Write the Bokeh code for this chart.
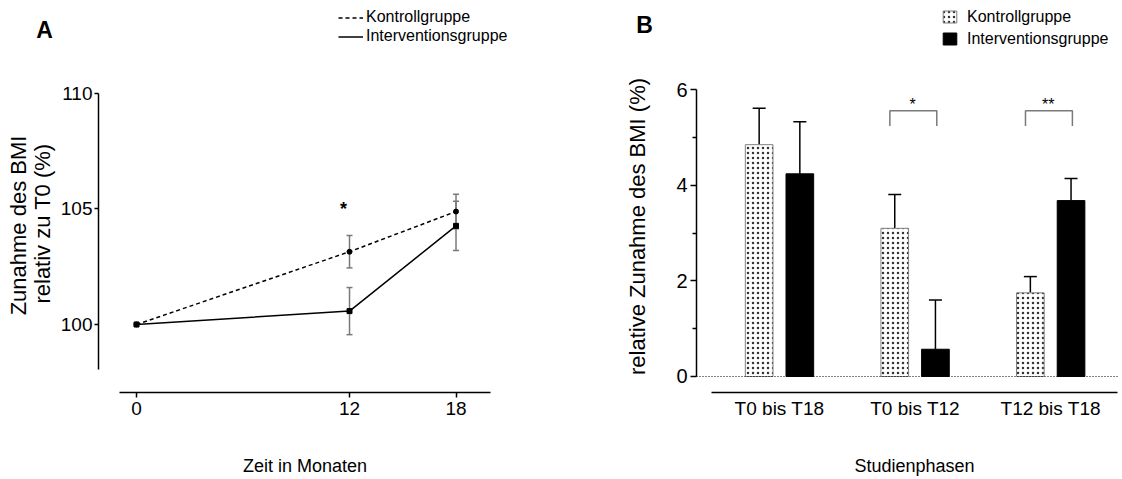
import numpy as np
from bokeh.plotting import figure
from bokeh.layouts import row
from bokeh.models import (ColumnDataSource, Whisker, TeeHead, FixedTicker, Legend,
                          LegendItem, Label, Range1d, LinearAxis, Grid)
from bokeh.embed import file_html
from bokeh.resources import INLINE

FONT = "Liberation Sans"

# ---------------- Panel A data ----------------
months = [0, 12, 18]
ctrl_mean = [100.0, 103.15, 104.89]
ctrl_err = [0.0, 0.70, 0.75]
int_mean = [100.0, 100.58, 104.27]
int_err = [0.0, 1.02, 1.07]
series_names = ["Kontrollgruppe", "Interventionsgruppe"]
a_yticks = [100, 105, 110]
a_sig_month = 12
a_sig_text = "*"

# ---------------- Panel B data ----------------
phases = ["T0 bis T18", "T0 bis T12", "T12 bis T18"]
ctrl_b = [4.85, 3.10, 1.75]
ctrl_b_err = [0.76, 0.71, 0.34]
int_b = [4.24, 0.57, 3.68]
int_b_err = [1.09, 1.03, 0.46]
b_yticks = [0, 2, 4, 6]
b_minor = [1, 3, 5]
sig_phase = [1, 2]
sig_text = ["*", "**"]

# ---------------- layout constants (axis placement) ----------------
A_YAXIS_AT, A_XAXIS_AT = -2.141, 97.056
B_YAXIS_AT, B_XAXIS_AT = -0.612, -0.335
B_XAXIS_END = 2.493


def make_fig(width, xr, yr):
    p = figure(width=width, height=479, output_backend="svg", toolbar_location=None,
               x_range=Range1d(*xr), y_range=Range1d(*yr),
               x_axis_location=None, y_axis_location=None,
               min_border_left=0, min_border_right=0, min_border_top=0, min_border_bottom=0)
    for r in list(p.center):
        if isinstance(r, Grid):
            r.visible = False
    p.outline_line_color = None
    p.background_fill_color = "white"
    p.border_fill_color = "white"
    return p


def make_axis(**kw):
    ax = LinearAxis(axis_line_color="black", axis_line_width=1.5,
                    major_tick_line_color="black", major_tick_line_width=1.5,
                    minor_tick_line_color=None, major_tick_in=0,
                    major_label_text_font=FONT, major_label_text_color="black", **kw)
    return ax


def add_label(p, text, x, y, size, angle=0.0, bold=False):
    p.add_layout(Label(x=x, y=y, x_units="screen", y_units="screen", text=text,
                       angle=angle, text_font=FONT, text_font_size=size,
                       text_font_style="bold" if bold else "normal",
                       text_align="center", text_baseline="middle", text_color="black"))


# ================= Panel A =================
pA = make_fig(600, (-7.662, 26.14), (93.29, 114.026))

lc = pA.line(months, ctrl_mean, line_color="black", line_width=1.5, line_dash="4 3")
pA.scatter(months, ctrl_mean, marker="circle", size=5, color="black")
li = pA.line(months, int_mean, line_color="black", line_width=1.5)
pA.scatter(months, int_mean, marker="square", size=5, color="black")

for m, e in ((ctrl_mean, ctrl_err), (int_mean, int_err)):
    idx = [i for i in range(len(months)) if e[i] > 0]
    src = ColumnDataSource(dict(base=[months[i] for i in idx],
                                lower=[m[i] - e[i] for i in idx],
                                upper=[m[i] + e[i] for i in idx]))
    pA.add_layout(Whisker(source=src, base="base", lower="lower", upper="upper",
                          line_color="#7a7a7a", line_width=1.5,
                          upper_head=TeeHead(size=6, line_color="#7a7a7a", line_width=1.5),
                          lower_head=TeeHead(size=6, line_color="#7a7a7a", line_width=1.5)))

pA.add_layout(Label(x=a_sig_month, y=105, x_offset=-6, text=a_sig_text, text_font=FONT,
                    text_font_size="18px", text_font_style="bold", text_color="black",
                    text_align="center", text_baseline="middle"))

xa = make_axis(ticker=FixedTicker(ticks=months), bounds=(-0.958, 19.94),
               fixed_location=A_XAXIS_AT, major_tick_out=5, major_label_standoff=4,
               major_label_text_font_size="19px")
pA.add_layout(xa, "below")
ya = make_axis(ticker=FixedTicker(ticks=a_yticks), bounds=(98.05, 110),
               fixed_location=A_YAXIS_AT, major_tick_out=4, major_label_standoff=2,
               major_label_text_font_size="19px")
pA.add_layout(ya, "left")

legA = Legend(items=[LegendItem(label=series_names[0], renderers=[lc]),
                     LegendItem(label=series_names[1], renderers=[li])],
              location=(338, 433.5), padding=0, margin=0, spacing=0,
              glyph_width=25, glyph_height=19, label_height=19, label_standoff=3,
              label_text_font=FONT, label_text_font_size="16px", label_text_color="black",
              border_line_color=None, background_fill_alpha=0)
pA.add_layout(legA)

add_label(pA, "A", 44, 450, "23px", bold=True)
add_label(pA, "Zunahme des BMI", 18, 254, "22px", angle=np.pi / 2)
add_label(pA, "relativ zu T0 (%)", 42, 256, "22px", angle=np.pi / 2)
add_label(pA, "Zeit in Monaten", 304.5, 14, "18px")

# ================= Panel B =================
pB = make_fig(522, (-1.320, 2.5295), (-2.155, 7.866))

xs = np.arange(len(phases))
dodge = 0.15
bw = 0.204

kb = pB.vbar(x=xs - dodge, top=ctrl_b, width=bw, fill_color="white",
             line_color="#808080", line_width=1, hatch_pattern="dot",
             hatch_color="#333333", hatch_scale=5, hatch_weight=0.7)
ib = pB.vbar(x=xs + dodge, top=int_b, width=bw, fill_color="black", line_color="black")

for off, m, e in ((-dodge, ctrl_b, ctrl_b_err), (dodge, int_b, int_b_err)):
    src = ColumnDataSource(dict(base=list(xs + off), lower=list(m),
                                upper=[a + b for a, b in zip(m, e)]))
    pB.add_layout(Whisker(source=src, base="base", lower="lower", upper="upper",
                          line_color="black", line_width=1.5, lower_head=None,
                          upper_head=TeeHead(size=13, line_color="black", line_width=1.5)))

# dotted zero reference line from the y axis to the end of the x axis
pB.line([B_YAXIS_AT, B_XAXIS_END], [0, 0], line_color="black", line_width=1, line_dash="1 2")

br_x, br_y = [], []
for i in sig_phase:
    br_x.append([i - 0.186, i - 0.186, i + 0.16, i + 0.16])
    br_y.append([5.24, 5.56, 5.56, 5.24])
pB.multi_line(br_x, br_y, line_color="#7a7a7a", line_width=1.5)
for i, t in zip(sig_phase, sig_text):
    pB.add_layout(Label(x=i - 0.018, y=5.7, text=t, text_font=FONT, text_font_size="16px",
                        text_color="black", text_align="center", text_baseline="middle"))

xb = make_axis(ticker=FixedTicker(ticks=list(xs)),
               major_label_overrides={int(i): phases[i] for i in xs},
               bounds=(-0.501, B_XAXIS_END), fixed_location=B_XAXIS_AT,
               major_tick_out=0, major_label_standoff=5,
               major_label_text_font_size="19px")
xb.major_tick_line_color = None
pB.add_layout(xb, "below")
yb = make_axis(ticker=FixedTicker(ticks=b_yticks, minor_ticks=b_minor), bounds=(0, 6),
               fixed_location=B_YAXIS_AT, major_tick_out=6, major_label_standoff=3,
               major_label_text_font_size="20px")
yb.minor_tick_out = 4
yb.minor_tick_in = 0
yb.minor_tick_line_color = "black"
yb.minor_tick_line_width = 1.5
pB.add_layout(yb, "left")

legB = Legend(items=[LegendItem(label=series_names[0], renderers=[kb]),
                     LegendItem(label=series_names[1], renderers=[ib])],
              location=(341, 430.5), padding=0, margin=0, spacing=2,
              glyph_width=17, glyph_height=15, label_height=20, label_standoff=9,
              label_text_font=FONT, label_text_font_size="16px", label_text_color="black",
              border_line_color=None, background_fill_alpha=0)
pB.add_layout(legB)

add_label(pB, "B", 44, 454.5, "23px", bold=True)
add_label(pB, "relative Zunahme des BMI (%)", 37, 253, "22px", angle=np.pi / 2)
add_label(pB, "Studienphasen", 314, 14, "18px")

layout = row(pA, pB)
open("out.html", "w").write(file_html(layout, INLINE))
